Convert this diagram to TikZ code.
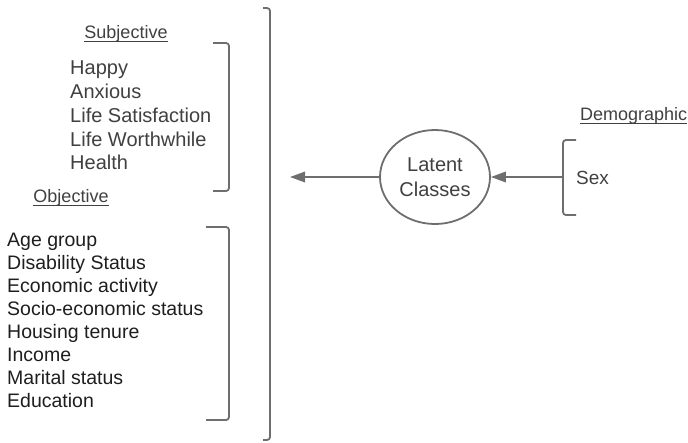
\documentclass[tikz,border=0pt]{standalone}
\usepackage{fontspec}
\setmainfont{Liberation Sans}
\usetikzlibrary{shapes.geometric,arrows.meta}
\begin{document}
\begin{tikzpicture}[x=1pt, y=-1pt,
  item/.style={anchor=base west, inner sep=0pt, text=txt, font=\fontsize{19.5}{23}\selectfont},
  heading/.style={anchor=base, inner sep=0pt, text=txt, font=\fontsize{18}{21}\selectfont},
  uline/.style={draw=txt, line width=1pt},
  brace/.style={draw=ln, line width=1.8pt, rounded corners=3pt},
  link/.style={draw=ln, line width=1.8pt, -{Triangle[length=15pt,width=10.5pt]}}]
\definecolor{txt}{HTML}{404040}
\definecolor{dtxt}{HTML}{1E1E1E}
\definecolor{ln}{HTML}{6E6E6E}
\useasboundingbox (0,0) rectangle (688,442);
% headings
\node[heading] (subj) at (126,38.5) {Subjective};
\draw[uline] ([yshift=-3pt]subj.base west) -- ([yshift=-3pt]subj.base east);
\node[heading] (objt) at (71,202) {Objective};
\draw[uline] ([yshift=-3pt]objt.base west) -- ([yshift=-3pt]objt.base east);
\node[heading, anchor=base west] (demo) at (580,120) {Demographic};
\draw[uline] ([yshift=-3pt]demo.base west) -- ([yshift=-3pt]demo.base east);
% subjective items
\node[item, font=\fontsize{20}{24}\selectfont] (happy) at (70,74.5) {Happy};
\node[item, font=\fontsize{20}{24}\selectfont] (anxious) at (70,98) {Anxious};
\node[item, font=\fontsize{20}{24}\selectfont] (lifesat) at (70,122) {Life Satisfaction};
\node[item, font=\fontsize{20}{24}\selectfont] (lifeworth) at (70,146) {Life Worthwhile};
\node[item, font=\fontsize{20}{24}\selectfont] (health) at (70,169.5) {Health};
% objective items
\node[item, text=dtxt] (age) at (7,246.5) {Age group};
\node[item, text=dtxt] (disab) at (7,269.5) {Disability Status};
\node[item, text=dtxt] (econ) at (7,292.5) {Economic activity};
\node[item, text=dtxt] (socio) at (7,315.5) {Socio-economic status};
\node[item, text=dtxt] (housing) at (7,338.5) {Housing tenure};
\node[item, text=dtxt] (income) at (7,361.5) {Income};
\node[item, text=dtxt] (marital) at (7,384.5) {Marital status};
\node[item, text=dtxt] (educ) at (7,407.5) {Education};
% brackets
\draw[brace] (213,43) -- (229,43) -- (229,191) -- (213,191);
\draw[brace] (206,227) -- (229,227) -- (229,420) -- (206,420);
\draw[brace] (263,8) -- (270,8) -- (270,440) -- (263,440);
\draw[brace] (576,140) -- (563,140) -- (563,215) -- (576,215);
% latent classes
\node[ellipse, draw=ln, line width=1.8pt, minimum width=110pt, minimum height=94pt,
  inner sep=0pt, align=center, text=txt, font=\fontsize{20}{25}\selectfont] (latent) at (435,177) {Latent\\Classes};
\node[item, anchor=base west, font=\fontsize{19}{23}\selectfont] (sex) at (576,184) {Sex};
\coordinate (allin) at (290,177);
\coordinate (sexout) at (563,177);
\draw[link] (latent.west) -- (allin);
\draw[link] (sexout) -- (latent.east);
\end{tikzpicture}
\end{document}
